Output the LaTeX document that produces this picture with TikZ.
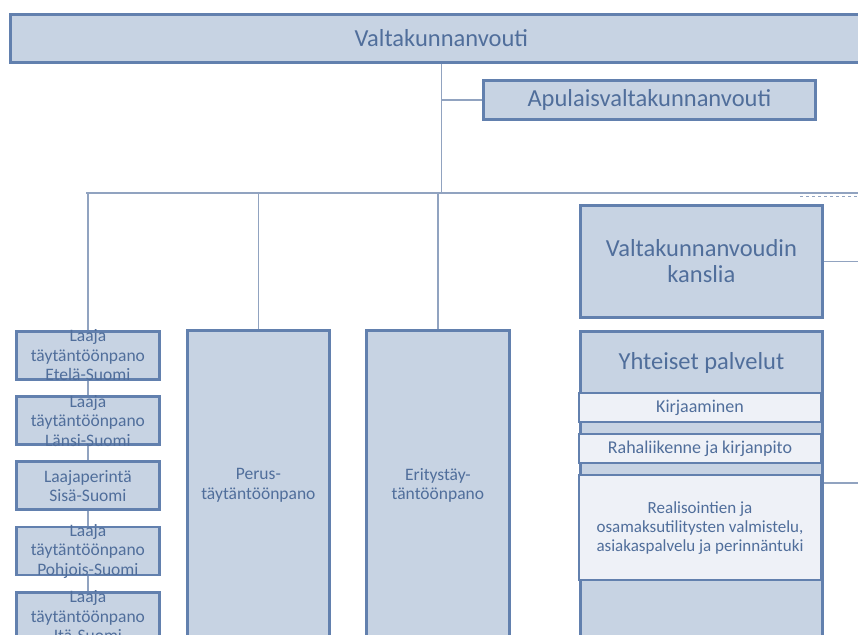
\documentclass[tikz,border=0pt]{standalone}
\usepackage{fontspec}
\setmainfont{Carlito}
\usepackage{xcolor}
\usetikzlibrary{positioning}
\definecolor{vvfill}{RGB}{199,211,227}
\definecolor{vvedge}{RGB}{98,128,174}
\definecolor{vvtext}{RGB}{80,110,155}
\definecolor{vvline}{RGB}{145,163,192}
\definecolor{vvband}{RGB}{238,241,247}

\begin{document}
\begin{tikzpicture}[
        x=1pt, y=-1pt,
        box/.style={draw=vvedge, line width=2.8pt, fill=vvfill, text=vvtext, align=center, inner sep=0pt},
        bigtext/.style={font=\fontsize{24.5}{26}\selectfont},
        lbl/.style={text=vvtext, align=center, font=\fontsize{17.5}{19.5}\selectfont},
        unitbox/.style={box, minimum width=143pt, minimum height=48pt},
        band/.style={draw=vvedge, line width=2.2pt, fill=vvband, text=vvtext, align=center, minimum width=242pt, inner sep=0pt, font=\fontsize{18}{19.5}\selectfont},
        conn/.style={draw=vvline, line width=1.5pt}
    ]
        \useasboundingbox (0,0) rectangle (858,634);
        \clip (0,0) rectangle (858,634);

        % Johto
        \node[box, bigtext, minimum width=862pt, minimum height=48pt, anchor=north west] (vouti) at (9,13) {Valtakunnanvouti};
        \node[box, bigtext, minimum width=332pt, minimum height=39pt, anchor=north west] (apulainen) at (482,79) {Apulaisvaltakunnanvouti};

        % Kokoojalinja
        \coordinate (busL) at (86,193);
        \coordinate (busR) at (858,193);
        \coordinate (katko) at (800,196);

        % Laaja taytantoonpano
        \node[unitbox, anchor=north west, label={[lbl]center:Laaja\\täytäntöönpano\\Etelä-Suomi}] (etela) at (15,330) {};
        \node[unitbox, below=14.4pt of etela, label={[lbl]center:Laaja\\täytäntöönpano\\Länsi-Suomi}] (lansi) {};
        \node[unitbox, below=14.4pt of lansi, label={[lbl]center:Laajaperintä\\Sisä-Suomi}] (sisa) {};
        \node[unitbox, below=14.4pt of sisa, label={[lbl]center:Laaja\\täytäntöönpano\\Pohjois-Suomi}] (pohjois) {};
        \node[unitbox, below=14.4pt of pohjois, label={[lbl]center:Laaja\\täytäntöönpano\\Itä-Suomi}] (ita) {};

        % Perus- ja erityistaytantoonpano
        \node[box, lbl, minimum width=142pt, minimum height=310pt, anchor=north west] (perus) at (186,329) {Perus-\\täytäntöönpano};
        \node[box, lbl, minimum width=143pt, minimum height=310pt, anchor=north west] (erityis) at (365,329) {Eritystäy-\\täntöönpano};

        % Kanslia
        \node[box, bigtext, minimum width=242pt, minimum height=112pt, anchor=north west] (kanslia) at (579,204) {Valtakunnanvoudin\\kanslia};

        % Yhteiset palvelut
        \node[box, minimum width=242pt, minimum height=330pt, anchor=north west] (yht) at (579,330) {};
        \node[text=vvtext, bigtext, inner sep=0pt, below=22pt of yht.north] (yhtotsikko) {Yhteiset palvelut};
        \node[band, minimum height=29pt, anchor=north] (kirjaus) at (700,392) {Kirjaaminen};
        \node[band, minimum height=29pt, anchor=north] (raha) at (700,433) {Rahaliikenne ja kirjanpito};
        \node[band, minimum height=105pt, anchor=north, font=\fontsize{17}{19}\selectfont] (realisointi) at (700,474) {Realisointien ja\\osamaksutilitysten valmistelu,\\asiakaspalvelu ja perinnäntuki};
        \coordinate (oikeaB) at (858,483);

        % Yhteydet
        \draw[conn] (vouti.south) -- (vouti.south |- busL);
        \draw[conn] (apulainen.west) -- (apulainen.west -| vouti.south);
        \draw[conn] (busL) -- (busR);
        \draw[draw=vvline, line width=0.8pt, dashed] (katko) -- (katko -| busR);
        \draw[conn] (etela.north |- busL) -- (etela.north);
        \draw[conn] (perus.north |- busL) -- (perus.north);
        \draw[conn] (erityis.north |- busL) -- (erityis.north);
        \draw[conn] (etela) -- (lansi);
        \draw[conn] (lansi) -- (sisa);
        \draw[conn] (sisa) -- (pohjois);
        \draw[conn] (pohjois) -- (ita);
        \draw[conn] (kanslia.east) -- (kanslia.east -| busR);
        \draw[conn] (oikeaB -| yht.east) -- (oikeaB);
    \end{tikzpicture}
\end{document}
